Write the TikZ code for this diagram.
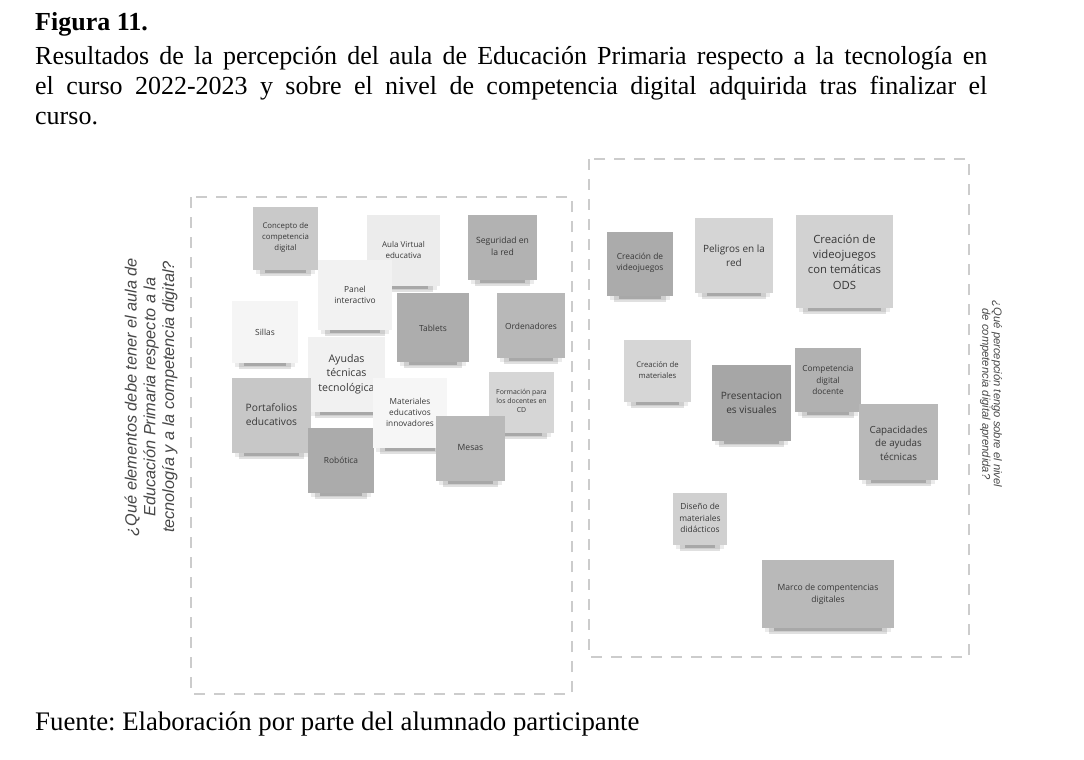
\documentclass[tikz,border=0pt]{standalone}
\usepackage{fontspec}
\setmainfont{Liberation Serif}
\newfontfamily\notefont{Open Sans}
\newfontfamily\qfont{Liberation Sans}
\usetikzlibrary{fit}
\tikzset{
  notebox/.style={rectangle, draw=none, inner sep=0pt},
  notetext/.style={align=center, text=black!78, inner sep=0pt},
  qbox/.style={draw=black!20, line width=1.8pt, dash pattern=on 11pt off 9pt},
  captext/.style={anchor=base west, inner sep=0pt, font=\fontsize{26}{30}\selectfont},
  qtext/.style={align=center, text=black!72, inner sep=0pt},
}
\newcommand\snote[9]{%
  \pgfmathsetmacro\nbs{#8*1.36}%
  \fill[black,opacity=.08] ({#2+3},{#5-4}) rectangle ({#4-3},{#5+3.5});
  \fill[black,opacity=.12] ({#2+7},{#5-4}) rectangle ({#4-7},{#5+5.5});
  \fill[black,opacity=.18] ({#2+12},{#5-4}) rectangle ({#4-12},{#5+3});
  \node[notebox,fill=#6,fit={(#2,#3) (#4,#5)}] (#1) {};
  \node[notetext,font={\notefont\fontsize{#8}{\nbs}\selectfont}] (#1t) at ({(#2+#4)/2},#7) {#9};
}
\begin{document}
\frenchspacing
\begin{tikzpicture}[x=1pt,y=-1pt]
\useasboundingbox (0,0) rectangle (1084,760);
\fill[white] (0,0) rectangle (1084,760);

% caption
\node[captext,font=\bfseries\fontsize{26}{30}\selectfont] (fig) at (35,31) {Figura 11.};
\node[captext] (cap1) at (35,64) {\makebox[952pt][s]{Resultados de la percepción del aula de Educación Primaria respecto a la tecnología en}};
\node[captext] (cap2) at (35,94) {\makebox[952pt][s]{el curso 2022-2023 y sobre el nivel de competencia digital adquirida tras finalizar el}};
\node[captext] (cap3) at (35,124) {curso.};
\node[captext,font=\fontsize{26.8}{30}\selectfont] (src) at (35,730) {Fuente: Elaboración por parte del alumnado participante};

% frames
\draw[qbox] (191,197) rectangle (572,694);
\draw[qbox] (589,159) rectangle (969,657);

% side questions
\node[qtext, rotate=90, font={\qfont\itshape\fontsize{16.3}{18.8}\selectfont}] (qleft) at (151,397)
  {¿Qué elementos debe tener el aula de\\Educación Primaria respecto a la\\tecnología y a la competencia digital?};
\node[qtext, rotate=-90, font={\qfont\itshape\fontsize{11.2}{11.5}\selectfont}] (qright) at (991,394)
  {¿Qué percepción tengo sobre el nivel\\de competencia digital aprendida?};

% left notes
\snote{concepto}{253}{207}{318}{270}{black!21}{237.5}{7.8}{Concepto de\\competencia\\digital}
\snote{aula}{367}{215}{440}{286}{black!7.5}{250}{8}{Aula Virtual\\educativa}
\snote{seguridad}{468}{215}{537}{280}{black!30}{246.5}{8.6}{Seguridad en\\la red}
\snote{panel}{318}{260}{392}{330}{black!5}{295}{8.4}{Panel\\interactivo}
\snote{sillas}{232}{301}{298}{363}{black!4}{332}{8.4}{Sillas}
\snote{tablets}{397}{293}{469}{362}{black!32}{328}{8.4}{Tablets}
\snote{ordenadores}{497}{293}{565}{358}{black!28}{326}{8.4}{Ordenadores}
\snote{ayudas}{308}{337}{385}{412}{black!5.5}{374}{10.6}{Ayudas\\técnicas\\tecnológica}
\snote{portafolios}{232}{378}{311}{453}{black!22}{415}{10.2}{Portafolios\\educativos}
\snote{robotica}{308}{428}{374}{493}{black!33}{460}{8.4}{Robótica}
\snote{formacion}{489}{372}{554}{433}{black!16}{401}{6.9}{Formación para\\los docentes en\\CD}
\snote{materiales}{373}{378}{447}{448}{black!3.5}{412.5}{8.3}{Materiales\\educativos\\innovadores}
\snote{mesas}{436}{416}{505}{481}{black!27.5}{447}{8.6}{Mesas}

% right notes
\snote{videojuegos}{607}{232}{673}{296}{black!33}{263}{8.4}{Creación de\\videojuegos}
\snote{peligros}{695}{218}{773}{293}{black!16.5}{255.5}{10}{Peligros en la\\red}
\snote{ods}{796}{215}{893}{308}{black!17.5}{262}{11.3}{Creación de\\videojuegos\\con temáticas\\ODS}
\snote{creamat}{624}{340}{691}{402}{black!16}{370}{7.7}{Creación de\\materiales}
\snote{presentacion}{712}{365}{791}{441}{black!35}{403}{10.1}{Presentacion\\es visuales}
\snote{competencia}{795}{348}{861}{412}{black!30.5}{380}{8.3}{Competencia\\digital\\docente}
\snote{capacidades}{859}{404}{938}{480}{black!28}{443}{9.8}{Capacidades\\de ayudas\\técnicas}
\snote{diseno}{673}{493}{727}{545}{black!18.5}{518}{8.4}{Diseño de\\materiales\\didácticos}
\snote{marco}{762}{560}{894}{628}{black!27.5}{594}{8.6}{Marco de compentencias\\digitales}
\end{tikzpicture}
\end{document}
